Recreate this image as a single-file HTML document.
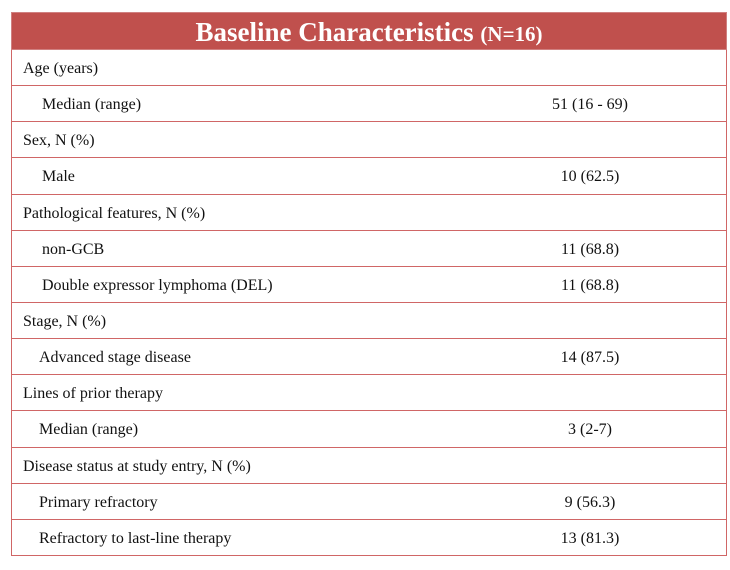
<!DOCTYPE html>
<html><head><style>
body{margin:0;background:#fff;width:730px;height:570px;position:relative;font-family:"Liberation Serif",serif;}
.hdr{position:absolute;left:11px;top:12px;width:716px;height:38px;background:#c0504d;color:#fff;text-align:center;font-weight:bold;font-size:27px;line-height:39px;box-sizing:border-box;border:1px solid #d08080;}
.hdr span{font-size:21px;}
.row{position:absolute;left:11px;width:716px;height:36.14px;box-sizing:border-box;border:1px solid #d06666;border-top:none;font-size:16px;color:#111;}
.row .l{position:absolute;top:0;line-height:38px;}
.row .r{position:absolute;left:441px;width:274px;text-align:center;top:0;line-height:38px;}
</style></head><body>
<div class="hdr">Baseline Characteristics <span>(N=16)</span></div>
<div class="row" style="top:50px"><div class="l" style="left:11px">Age (years)</div></div>
<div class="row" style="top:86.1px"><div class="l" style="left:30px">Median (range)</div><div class="r">51 (16 - 69)</div></div>
<div class="row" style="top:122.3px"><div class="l" style="left:11px">Sex, N (%)</div></div>
<div class="row" style="top:158.4px"><div class="l" style="left:30px">Male</div><div class="r">10 (62.5)</div></div>
<div class="row" style="top:194.6px"><div class="l" style="left:11px">Pathological features, N (%)</div></div>
<div class="row" style="top:230.7px"><div class="l" style="left:30px">non-GCB</div><div class="r">11 (68.8)</div></div>
<div class="row" style="top:266.8px"><div class="l" style="left:30px">Double expressor lymphoma (DEL)</div><div class="r">11 (68.8)</div></div>
<div class="row" style="top:303px"><div class="l" style="left:11px">Stage, N (%)</div></div>
<div class="row" style="top:339.1px"><div class="l" style="left:27px">Advanced stage disease</div><div class="r">14 (87.5)</div></div>
<div class="row" style="top:375.3px"><div class="l" style="left:11px">Lines of prior therapy</div></div>
<div class="row" style="top:411.4px"><div class="l" style="left:27px">Median (range)</div><div class="r">3 (2-7)</div></div>
<div class="row" style="top:447.5px"><div class="l" style="left:11px">Disease status at study entry, N (%)</div></div>
<div class="row" style="top:483.7px"><div class="l" style="left:27px">Primary refractory</div><div class="r">9 (56.3)</div></div>
<div class="row" style="top:519.8px"><div class="l" style="left:27px">Refractory to last-line therapy</div><div class="r">13 (81.3)</div></div>
</body></html>
